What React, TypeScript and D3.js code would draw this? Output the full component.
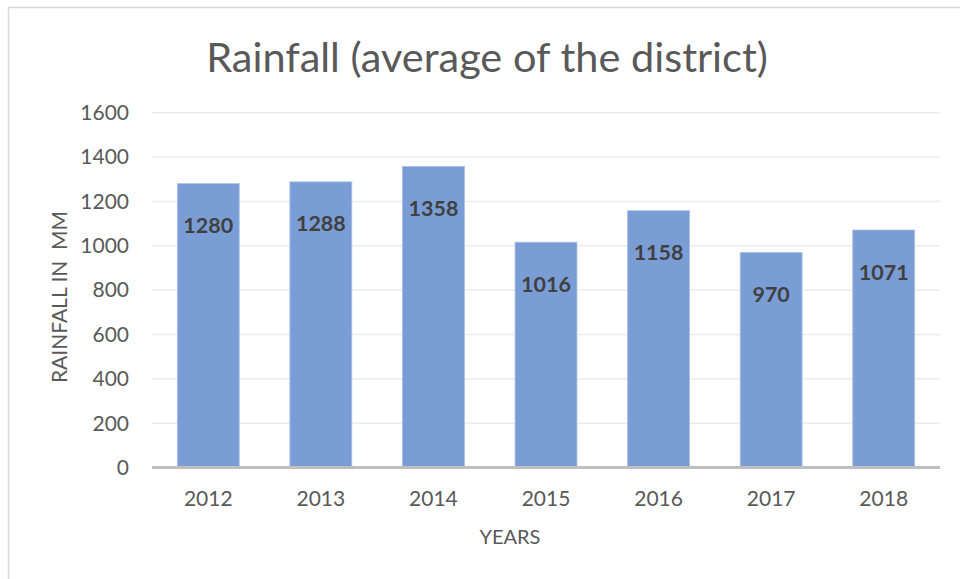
import * as d3 from "d3";

const years = ["2012", "2013", "2014", "2015", "2016", "2017", "2018"];
const rainfall = [1280, 1288, 1358, 1016, 1158, 970, 1071];
const yTicks = [0, 200, 400, 600, 800, 1000, 1200, 1400, 1600];

const W = 960;
const H = 579;
const font = "Lato, 'Open Sans', sans-serif";

export default function App() {
  const x = d3
    .scaleBand<string>()
    .domain(years)
    .range([152, 940])
    .paddingInner(0.45)
    .paddingOuter(0.225);

  const y = d3.scaleLinear().domain([0, 1600]).range([467.5, 112.7]);

  return (
    <svg
      width={W}
      height={H}
      style={{ position: "absolute", left: 0, top: 0, background: "#fff" }}
    >
      {/* chart frame */}
      <rect x={8.5} y={7.5} width={W} height={H} fill="#fff" stroke="#d9d9d9" strokeWidth={1.5} />

      <text
        x={487}
        y={72}
        textAnchor="middle"
        fontFamily={font}
        fontSize={41.5}
        fill="#595959"
      >
        Rainfall (average of the district)
      </text>

      {/* gridlines */}
      {yTicks.slice(1).map((t) => (
        <line
          key={t}
          x1={152}
          x2={940}
          y1={y(t)}
          y2={y(t)}
          stroke="#ececec"
          strokeWidth={1.5}
        />
      ))}

      {/* y tick labels */}
      {yTicks.map((t) => (
        <text
          key={t}
          x={129}
          y={y(t)}
          dy="0.35em"
          textAnchor="end"
          fontFamily={font}
          fontSize={21}
          fill="#595959"
        >
          {t}
        </text>
      ))}

      {/* bars */}
      {years.map((yr, i) => (
        <rect
          key={yr}
          x={x(yr)}
          y={y(rainfall[i])}
          width={x.bandwidth()}
          height={y(0) - y(rainfall[i])}
          fill="#7b9dd6"
          stroke="#a9bfe6"
          strokeWidth={0.8}
        />
      ))}

      {/* axis line */}
      <line x1={152} x2={940} y1={y(0)} y2={y(0)} stroke="#bfbfbf" strokeWidth={3} />

      {/* data labels */}
      {years.map((yr, i) => (
        <text
          key={yr}
          x={(x(yr) ?? 0) + x.bandwidth() / 2}
          y={y(rainfall[i]) + 42}
          dy="0.35em"
          textAnchor="middle"
          fontFamily={font}
          fontWeight="bold"
          fontSize={21.5}
          fill="#404040"
        >
          {rainfall[i]}
        </text>
      ))}

      {/* x tick labels */}
      {years.map((yr) => (
        <text
          key={yr}
          x={(x(yr) ?? 0) + x.bandwidth() / 2}
          y={506}
          textAnchor="middle"
          fontFamily={font}
          fontSize={21}
          fill="#595959"
        >
          {yr}
        </text>
      ))}

      <text
        x={510}
        y={544}
        textAnchor="middle"
        fontFamily={font}
        fontSize={20}
        fill="#595959"
      >
        YEARS
      </text>

      <text
        transform="translate(67,297) rotate(-90)"
        textAnchor="middle"
        fontFamily={font}
        fontSize={21}
        fill="#595959"
        style={{ whiteSpace: "pre" }}
      >
        {"RAINFALL IN  MM"}
      </text>
    </svg>
  );
}
